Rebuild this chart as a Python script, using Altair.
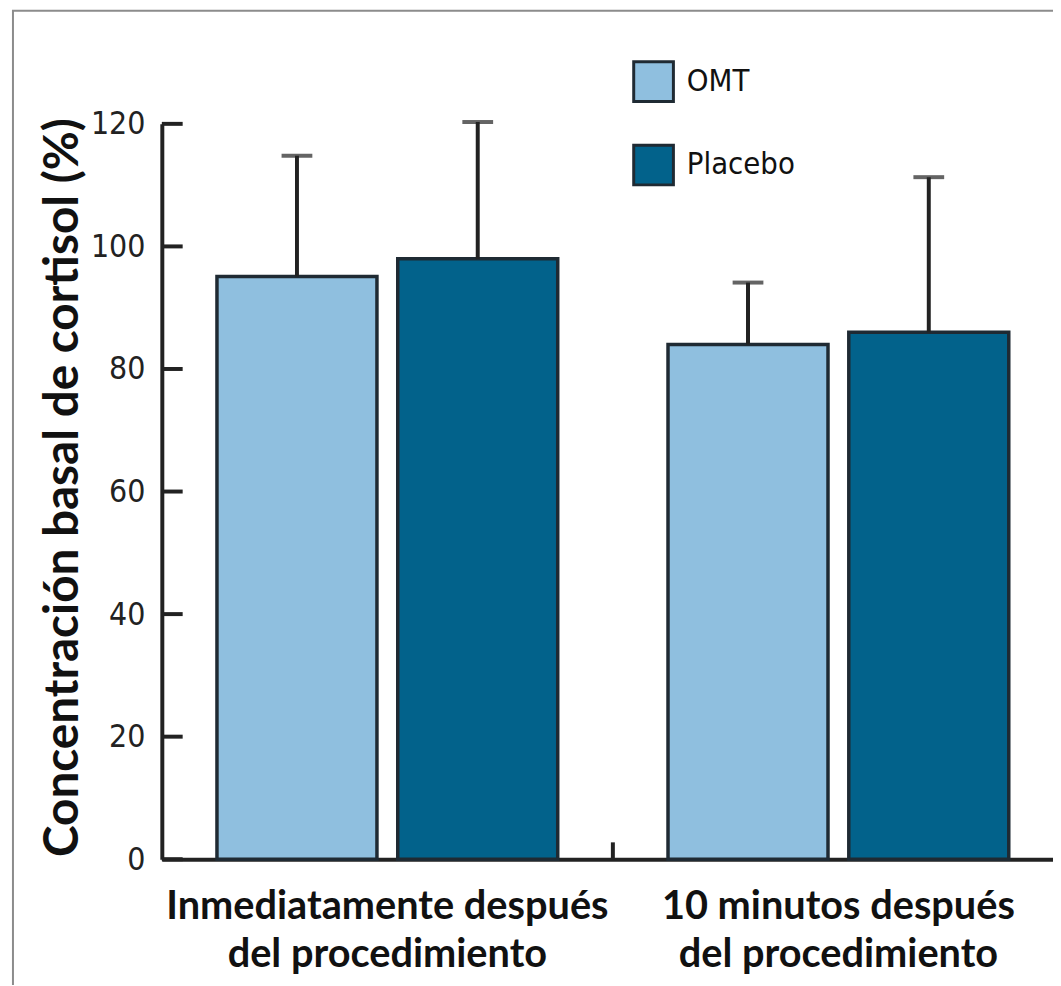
import altair as alt
import pandas as pd

groups = ["Inmediatamente después\ndel procedimiento", "10 minutos después\ndel procedimiento"]
treatments = ["OMT", "Placebo"]
means = {"OMT": [95.1, 84.0], "Placebo": [98.0, 86.0]}
uppers = {"OMT": [114.8, 94.1], "Placebo": [120.3, 111.3]}
y_ticks = [0, 20, 40, 60, 80, 100, 120]
colors = ["#8fbfdf", "#02628b"]

rows = []
for t in treatments:
    for i, g in enumerate(groups):
        rows.append({"grupo": g, "tratamiento": t, "valor": means[t][i], "sup": uppers[t][i]})
df = pd.DataFrame(rows)

W, H = 890, 741
INK = "#222222"
NARROW = "DejaVu Sans Condensed, Liberation Sans Narrow, Roboto, sans-serif"

x_enc = alt.X("grupo:N", sort=groups, title=None,
              scale=alt.Scale(range=[0, 909], paddingInner=0, paddingOuter=0),
              axis=alt.Axis(labelExpr="split(datum.label, '\\n')", labelAngle=0,
                            labelFont="Lato", labelFontWeight="bold", labelFontSize=40,
                            labelLineHeight=48, labelColor="#111111", labelPadding=28,
                            labelLimit=1000, ticks=False, domainColor=INK, domainWidth=4,
                            labelBaseline="top"))
xoff = alt.XOffset("tratamiento:N", sort=treatments,
                   scale=alt.Scale(paddingInner=0.115, paddingOuter=0.305))
y_enc = alt.Y("valor:Q", scale=alt.Scale(domain=[0, 120], nice=False),
              axis=alt.Axis(values=y_ticks, ticks=False, grid=False, domainColor=INK,
                            domainWidth=4, labelFont=NARROW, labelFontSize=32,
                            labelColor=INK, labelPadding=17,
                            title="Concentración basal de cortisol (%)",
                            titleFont="Lato", titleFontWeight="bold", titleFontSize=48,
                            titleColor="#111111", titleX=-99, titleY=366, titleAngle=-90,
                            titleAlign="center", titleBaseline="middle"))

base = alt.Chart(df)

bars = base.mark_bar(stroke="#1f2a33", strokeWidth=3.5).encode(
    x=x_enc, xOffset=xoff, y=y_enc,
    color=alt.Color("tratamiento:N", sort=treatments,
                    scale=alt.Scale(domain=treatments, range=colors),
                    legend=alt.Legend(title=None, orient="none", legendX=474, legendY=-64,
                                      symbolType="square", symbolSize=1600,
                                      symbolStrokeColor="#1f2a33", symbolStrokeWidth=3,
                                      symbolOpacity=1, labelFont=NARROW,
                                      labelFontSize=31, labelColor="#111111", labelOffset=12,
                                      rowPadding=31, padding=0)),
)

err = base.mark_rule(color=INK, strokeWidth=4).encode(
    x=alt.X("grupo:N", sort=groups), xOffset=alt.XOffset("tratamiento:N", sort=treatments),
    y="valor:Q", y2="sup:Q")

caps = base.mark_tick(color=INK, thickness=4, size=31).encode(
    x=alt.X("grupo:N", sort=groups), xOffset=alt.XOffset("tratamiento:N", sort=treatments),
    y="sup:Q")

tick_df = pd.DataFrame({"t": y_ticks})
yticks = alt.Chart(tick_df).mark_rule(color=INK, strokeWidth=4).encode(
    y=alt.Y("t:Q"), x=alt.value(0), x2=alt.value(21))

sep = alt.Chart(pd.DataFrame({"grupo": [groups[0]]})).mark_rule(color=INK, strokeWidth=4).encode(
    x=alt.X("grupo:N", sort=groups, bandPosition=1), y=alt.value(H), y2=alt.value(H - 17))

frame = alt.Chart(alt.Data(values=[{}])).mark_rect(fillOpacity=0, stroke="#8c8c8c", strokeWidth=2).encode(
    x=alt.value(-150), x2=alt.value(930), y=alt.value(-114), y2=alt.value(900))

chart = alt.layer(frame, bars, err, caps, yticks, sep).properties(
    width=W, height=H,
    autosize=alt.AutoSizeParams(type="none"),
    padding={"left": 155, "top": 113, "right": 8, "bottom": 123},
    background="white",
).configure_view(stroke=None)

chart.save("out.html", embed_options={"renderer": "svg", "actions": False})
